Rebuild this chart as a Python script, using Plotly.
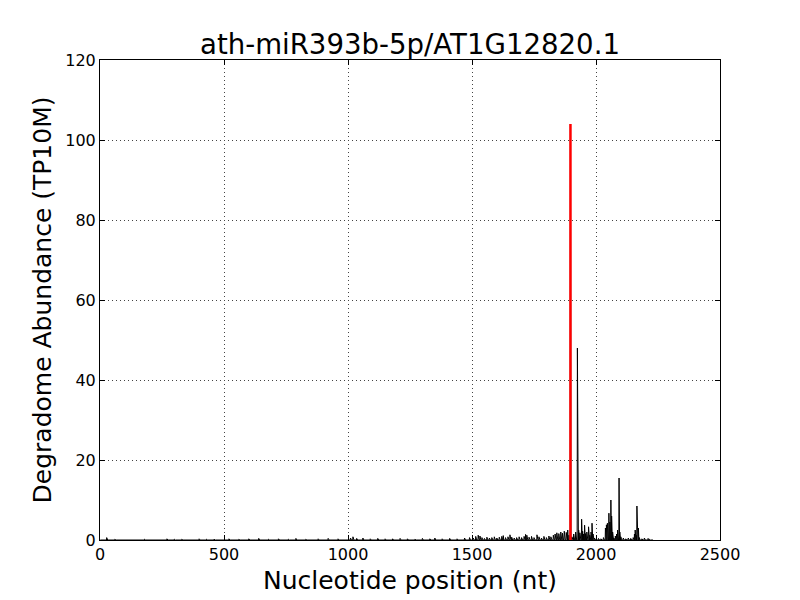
import plotly.graph_objects as go

title_text = "ath-miR393b-5p/AT1G12820.1"
x_label = "Nucleotide position (nt)"
y_label = "Degradome Abundance (TP10M)"

transcript_length = 2230
cleavage_site = 1897
cleavage_abundance = 104

# non-zero degradome signal (position: abundance)
signal_positions = [
    27, 60, 180, 270, 300, 330, 400, 430, 460, 520, 560, 600, 640, 680, 720, 760, 790,
    830, 880, 920, 960, 1010, 1020, 1035, 1060, 1090, 1120, 1150, 1180, 1210, 1240,
    1270, 1300, 1330, 1350, 1380, 1410, 1440, 1470, 1490,
    1505, 1515, 1525, 1532, 1540, 1550, 1560, 1570, 1580, 1590, 1600, 1610, 1620, 1626,
    1635, 1645, 1653, 1660, 1670, 1680, 1690, 1700, 1710, 1716, 1721, 1730, 1740, 1750,
    1762, 1770, 1780, 1790, 1800, 1810, 1818, 1828, 1835, 1842, 1850, 1858, 1865, 1872,
    1880, 1886, 1891, 1897,
    1903, 1910, 1918, 1925, 1930, 1935, 1942, 1946, 1950, 1954, 1958, 1963, 1970, 1975,
    1980, 1984, 1988, 1993, 2000, 2010, 2020, 2030, 2038, 2042, 2046, 2049, 2052, 2056,
    2060, 2063, 2067, 2072, 2078, 2083, 2087, 2090, 2093, 2096, 2100, 2110, 2120, 2130,
    2140, 2150, 2155, 2158, 2162, 2165, 2168, 2171, 2175, 2185, 2195, 2210, 2215,
]
signal_values = [
    0.6, 0.2, 0.2, 0.3, 0.2, 0.2, 0.3, 0.2, 0.2, 0.3, 0.2, 0.3, 0.4, 0.2, 0.3, 0.2, 0.4,
    0.2, 0.3, 0.4, 0.3, 0.5, 0.8, 0.4, 0.5, 0.3, 0.4, 0.3, 0.3, 0.4, 0.3,
    0.2, 0.4, 0.3, 0.5, 0.3, 0.4, 0.3, 0.5, 0.6,
    0.5, 0.9, 1.2, 1.0, 0.6, 0.4, 0.7, 0.5, 0.6, 0.8, 0.5, 0.7, 0.9, 1.1,
    0.6, 0.8, 1.3, 0.7, 0.5, 0.6, 0.8, 0.6, 0.9, 1.4, 1.2, 0.7, 0.9, 0.6,
    1.3, 0.8, 0.5, 0.9, 0.6, 1.0, 0.8, 1.2, 1.5, 1.8, 1.6, 2.0, 1.7, 2.2,
    1.9, 2.5, 1.2, 104,
    0.8, 1.5, 2.0, 48, 2.5, 1.8, 5.2, 2.2, 1.5, 3.7, 1.6, 2.0, 3.3, 1.2,
    2.0, 4.2, 1.5, 0.5, 0.3, 0.4, 0.3, 0.6, 3.0, 3.8, 4.2, 3.5, 6.7, 4.5,
    10.0, 6.0, 2.0, 0.5, 1.0, 1.5, 2.5, 2.0, 15.5, 2.0, 0.8, 0.5, 0.3, 0.5,
    0.4, 0.6, 1.5, 2.5, 1.2, 8.5, 5.0, 3.0, 0.6, 0.3, 0.5, 0.4, 0.2,
]

positions = list(range(1, transcript_length + 1))
abundance = [0.0] * transcript_length
for p, v in zip(signal_positions, signal_values):
    abundance[p - 1] = v

fig = go.Figure()
fig.add_trace(go.Scatter(x=positions, y=abundance, mode="lines",
                         line=dict(color="black", width=1), showlegend=False,
                         hoverinfo="skip"))
fig.add_trace(go.Scatter(x=[cleavage_site, cleavage_site], y=[0, cleavage_abundance],
                         mode="lines", line=dict(color="red", width=2.5),
                         showlegend=False))

font_family = "DejaVu Sans"
axis_common = dict(
    showline=True, linecolor="black", linewidth=1, mirror="allticks",
    ticks="inside", ticklen=5, tickcolor="black", tickwidth=1,
    showgrid=True, gridcolor="#444444", griddash="1px,3px", gridwidth=1,
    zeroline=False, automargin=False,
    tickfont=dict(family=font_family, size=16, color="black"),
)

fig.update_layout(
    width=800, height=600,
    paper_bgcolor="white", plot_bgcolor="white",
    margin=dict(l=92, r=88, t=52, b=68),
    title=dict(text=title_text, x=402 / 800, xanchor="center", y=(600 - 36) / 600,
               yanchor="middle", yref="container", automargin=False,
               font=dict(family=font_family, size=27.6, color="black")),
    xaxis=dict(range=[0, 2500], dtick=500, tick0=0,
               title=dict(text=x_label, font=dict(family=font_family, size=25, color="black"),
                          standoff=8),
               **axis_common),
    yaxis=dict(range=[0, 120], dtick=20, tick0=0,
               title=dict(text=y_label, font=dict(family=font_family, size=25, color="black"),
                          standoff=6),
               **axis_common),
)

fig.write_html("out.html")
